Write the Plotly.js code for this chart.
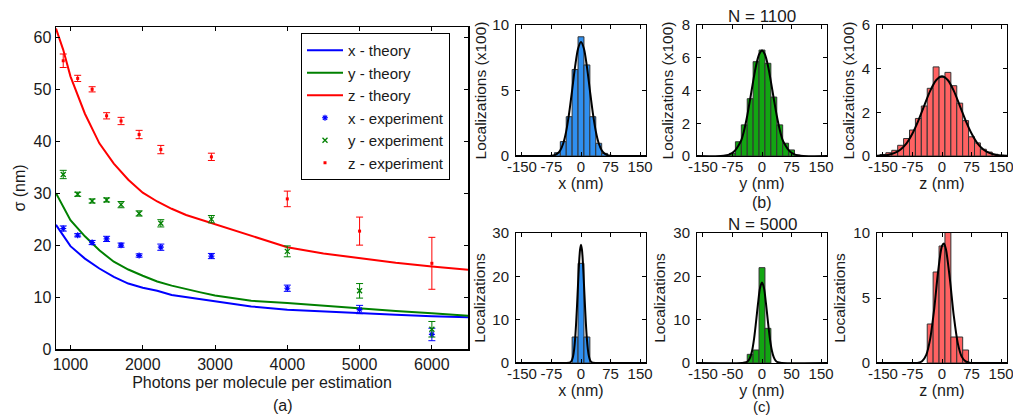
<!DOCTYPE html>
<html>
<head>
<meta charset="utf-8">
<script src="https://cdn.plot.ly/plotly-3.0.1.min.js"></script>
<style>
html,body{margin:0;padding:0;background:#fff;}
#chart{width:1013px;height:416px;}
</style>
</head>
<body>
<div id="chart"></div>
<script>
// ---------- (a) localization precision vs photons ----------
const photonsTheory = [800,900,1000,1200,1400,1600,1800,2000,2200,2400,2600,2800,3000,3500,4000,4500,5000,5500,6000,6500];
const sigmaXTheory = [23.9,21.8,19.8,17.4,15.5,13.9,12.6,11.8,11.2,10.4,10.0,9.5,9.1,8.2,7.55,7.2,6.9,6.6,6.3,6.1];
const sigmaYTheory = [30.0,27.3,24.8,21.7,19.0,16.8,15.3,14.1,13.0,12.2,11.5,10.9,10.3,9.3,8.85,8.3,7.75,7.3,6.9,6.4];
const sigmaZTheory = [61.7,57.6,52.5,45.3,39.6,35.7,32.6,30.1,28.4,27.0,25.8,24.9,24.1,21.9,19.6,18.4,17.5,16.6,15.9,15.25];

const photonsExp = [900,1100,1300,1500,1700,1950,2250,2950,4000,5000,6000];
const sigmaXExp = [23.2,21.9,20.5,21.2,20.0,18.0,19.6,17.9,11.7,7.6,2.8];
const sigmaXErr = [0.5,0.3,0.4,0.5,0.4,0.3,0.6,0.5,0.6,0.8,1.2];
const sigmaYExp = [33.6,29.8,28.5,28.7,27.8,26.1,24.2,25.0,18.8,11.2,3.8];
const sigmaYErr = [0.8,0.4,0.4,0.4,0.6,0.5,0.7,0.7,1.05,1.4,1.5];
const sigmaZExp = [55.5,52.1,50.0,44.9,43.9,41.3,38.4,37.0,28.9,22.7,16.5];
const sigmaZErr = [1.3,0.6,0.5,0.6,0.7,0.8,0.8,0.7,1.5,2.7,5.0];

// ---------- (b) histograms, N = 1100 (x100 localizations) ----------
const binsX1100 = [-75,-60,-45,-30,-15,0,15,30,45,60,75];
const countsX1100 = [0.03,0.25,1.1,3.0,6.6,9.1,6.95,3.0,0.97,0.2,0.03];
const binsY1100 = [-90,-75,-60,-45,-30,-15,0,15,30,45,60,75,90];
const countsY1100 = [0.03,0.16,0.87,1.9,3.5,5.76,6.47,5.66,3.6,1.9,0.78,0.37,0.05];
const binsZ1100 = [-150,-135,-120,-105,-90,-75,-60,-45,-30,-15,0,15,30,45,60,75,90,105,120,135,150];
const countsZ1100 = [0.07,0.15,0.26,0.49,0.8,1.19,1.72,2.29,3.1,4.08,3.6,3.83,3.22,2.42,1.62,0.88,0.6,0.31,0.18,0.08,0.03];

const fitPosX1100 = [-165,-90,-75,-67.5,-60,-52.5,-45,-37.5,-30,-22.5,-15,-7.5,0,7.5,15,22.5,30,37.5,45,52.5,60,67.5,75,90,165];
const fitX1100 = [0,0,0.02,0.06,0.18,0.44,0.97,1.9,3.29,5.03,6.82,8.19,8.7,8.19,6.82,5.03,3.29,1.9,0.97,0.44,0.18,0.06,0.02,0,0];
const fitPosY1100 = [-165,-105,-90,-82.5,-75,-67.5,-60,-52.5,-45,-37.5,-30,-22.5,-15,-7.5,0,7.5,15,22.5,30,37.5,45,52.5,60,67.5,75,82.5,90,105,165];
const fitY1100 = [0,0,0.05,0.1,0.2,0.36,0.62,0.97,1.61,2.46,3.48,4.56,5.53,6.2,6.45,6.2,5.53,4.56,3.48,2.46,1.61,0.97,0.62,0.36,0.2,0.1,0.05,0,0];
const fitPosZ1100 = [-165,-150,-135,-120,-105,-90,-75,-60,-45,-30,-15,0,15,30,45,60,75,90,105,120,135,150,165];
const fitZ1100 = [0.01,0.02,0.06,0.14,0.3,0.58,1.03,1.62,2.31,2.98,3.47,3.65,3.47,2.98,2.31,1.62,1.03,0.58,0.3,0.14,0.06,0.02,0.01];

// ---------- (c) histograms, N = 5000 ----------
const binsX5000 = [-15,0,15];
const countsX5000 = [6,23,6];
const binsY5000 = [-30,-15,0,15];
const countsY5000 = [2,3,22,8];
const binsZ5000 = [-30,-15,0,15,30,45,60];
const countsZ5000 = [3,7,9,12,2,2,1];

const fitPosX5000 = [-165,-40,-30,-25,-22.5,-20,-17.5,-15,-12.5,-10,-7.5,-5,-2.5,0,2.5,5,7.5,10,12.5,15,17.5,20,22.5,25,30,40,165];
const fitX5000 = [0,0,0.05,0.32,0.76,1.6,3.1,5.5,9.0,13.4,18.3,22.9,26.1,27.3,26.1,22.9,18.3,13.4,9.0,5.5,3.1,1.6,0.76,0.32,0.05,0,0];
const fitPosY5000 = [-165,-50,-40,-35,-30,-25,-20,-15,-10,-5,0,5,10,15,20,25,30,35,40,50,165];
const fitY5000 = [0,0.02,0.17,0.5,1.3,2.9,5.7,9.6,13.8,17.3,18.6,17.3,13.8,9.6,5.7,2.9,1.3,0.5,0.17,0.02,0];
const fitPosZ5000 = [-165,-70,-60,-50,-40,-30,-20,-10,0,5,10,20,30,40,50,60,70,80,165];
const fitZ5000 = [0,0,0.02,0.16,0.63,1.86,4.1,7.0,9.0,9.2,8.75,6.45,3.6,1.53,0.49,0.12,0.02,0,0];

// ---------- tick labels ----------
const mainXTicks = [1000,2000,3000,4000,5000,6000];
const histTickVals = [-150,-75,0,75,150];
const histTickText = ['-150','-75','0','75','150'];
const histTickTextY5000 = ['-150','-50','0','50','150'];

// ---------- styling ----------
const W = 1013, H = 416;
const NARROW = "'Liberation Sans Narrow','Arial Narrow','Liberation Sans',Arial,sans-serif";
const REG = "'Liberation Sans',Arial,Helvetica,sans-serif";
const TXT = '#1a1a1a';
const BLUE = '#0000ff', GREEN = '#008000', RED = '#ff0000';
const BAR_BLUE = '#2f8ff0', BAR_GREEN = '#12a612', BAR_RED = '#ff6262';

function px2x(a, b) { return [a / W, b / W]; }
function px2y(top, bottom) { return [1 - bottom / H, 1 - top / H]; }

function axis(o) {
  return Object.assign({
    showline: true, linecolor: '#000', linewidth: 1, mirror: 'ticks',
    ticks: 'inside', ticklen: 4, tickcolor: '#000', tickwidth: 1,
    zeroline: false, showgrid: false, fixedrange: true,
    ticklabeloverflow: 'allow',
    tickfont: {family: NARROW, size: 15, color: TXT}
  }, o);
}

const traces = [];
// theory lines
traces.push({x: photonsTheory, y: sigmaXTheory, type: 'scatter', mode: 'lines', name: 'x - theory',
  line: {color: BLUE, width: 2}, xaxis: 'x', yaxis: 'y'});
traces.push({x: photonsTheory, y: sigmaYTheory, type: 'scatter', mode: 'lines', name: 'y - theory',
  line: {color: GREEN, width: 2}, xaxis: 'x', yaxis: 'y'});
traces.push({x: photonsTheory, y: sigmaZTheory, type: 'scatter', mode: 'lines', name: 'z - theory',
  line: {color: RED, width: 2}, xaxis: 'x', yaxis: 'y'});
// experiments
traces.push({x: photonsExp, y: sigmaXExp, type: 'scatter', mode: 'markers', name: 'x - experiment',
  marker: {symbol: 'asterisk-open', size: 5, color: BLUE, line: {color: BLUE, width: 1.2}},
  error_y: {type: 'data', array: sigmaXErr, visible: true, color: BLUE, thickness: 1, width: 3.5},
  xaxis: 'x', yaxis: 'y'});
traces.push({x: photonsExp, y: sigmaYExp, type: 'scatter', mode: 'markers', name: 'y - experiment',
  marker: {symbol: 'x-thin-open', size: 5, color: GREEN, line: {color: GREEN, width: 1.3}},
  error_y: {type: 'data', array: sigmaYErr, visible: true, color: GREEN, thickness: 1, width: 3.5},
  xaxis: 'x', yaxis: 'y'});
traces.push({x: photonsExp, y: sigmaZExp, type: 'scatter', mode: 'markers', name: 'z - experiment',
  marker: {symbol: 'square', size: 3, color: RED},
  error_y: {type: 'data', array: sigmaZErr, visible: true, color: RED, thickness: 1, width: 3.5},
  xaxis: 'x', yaxis: 'y'});

function hist(bins, counts, color, n) {
  traces.push({x: bins, y: counts, type: 'bar', width: 15, showlegend: false,
    marker: {color: color, line: {color: '#333', width: 1}},
    xaxis: 'x' + n, yaxis: 'y' + n, hoverinfo: 'skip'});
}
function fit(xs, ys, n) {
  traces.push({x: xs, y: ys, type: 'scatter', mode: 'lines', showlegend: false,
    line: {color: '#000', width: 2, shape: 'spline', smoothing: 0.8},
    xaxis: 'x' + n, yaxis: 'y' + n, hoverinfo: 'skip'});
}
hist(binsX1100, countsX1100, BAR_BLUE, 2);  fit(fitPosX1100, fitX1100, 2);
hist(binsY1100, countsY1100, BAR_GREEN, 3); fit(fitPosY1100, fitY1100, 3);
hist(binsZ1100, countsZ1100, BAR_RED, 4);   fit(fitPosZ1100, fitZ1100, 4);
hist(binsX5000, countsX5000, BAR_BLUE, 5);  fit(fitPosX5000, fitX5000, 5);
hist(binsY5000, countsY5000, BAR_GREEN, 6); fit(fitPosY5000, fitY5000, 6);
hist(binsZ5000, countsZ5000, BAR_RED, 7);   fit(fitPosZ5000, fitZ5000, 7);

const cols = [[516, 646], [697, 827], [877, 1007]];
const topRow = [25, 156], botRow = [233, 363];
const HR = [-165, 165];
const titleFont = {family: REG, size: 16, color: TXT};
const yTitleFont = {family: REG, size: 15.5, color: TXT};

function histX(col, row, n, label, ttext) {
  return axis({domain: px2x(cols[col][0], cols[col][1]), range: HR, anchor: 'y' + n,
    tickvals: histTickVals, ticktext: ttext || histTickText, ticklabelstandoff: -3,
    title: {text: label, font: titleFont, standoff: 3}});
}
function histY(row, n, range, dtick, label, standoff) {
  return axis({domain: px2y(row[0], row[1]), range: range, dtick: dtick, anchor: 'x' + n,
    ticklabelstandoff: 3,
    title: {text: label, font: yTitleFont, standoff: standoff}});
}

function ann(text, xpx, ypx, size) {
  return {text: text, x: xpx / W, y: 1 - ypx / H, xref: 'paper', yref: 'paper',
    xanchor: 'center', yanchor: 'middle', showarrow: false,
    font: {family: REG, size: size, color: TXT}};
}

const layout = {
  width: W, height: H,
  margin: {l: 0, r: 0, t: 0, b: 0},
  paper_bgcolor: '#fff', plot_bgcolor: '#fff',
  bargap: 0,
  font: {family: REG, color: TXT},
  showlegend: true,
  legend: {x: 301 / W, y: 1 - 33 / H, xanchor: 'left', yanchor: 'top',
    bgcolor: '#fff', bordercolor: '#000', borderwidth: 1,
    itemwidth: 36,
    font: {family: REG, size: 15, color: TXT}, tracegroupgap: 0},
  xaxis: axis({domain: px2x(56, 468), range: [800, 6500], tickvals: mainXTicks, anchor: 'y',
    linewidth: 1.5, tickfont: {family: NARROW, size: 16, color: TXT},
    title: {text: 'Photons per molecule per estimation', font: titleFont, standoff: 5}}),
  yaxis: axis({domain: px2y(27, 349), range: [0, 62], dtick: 10, anchor: 'x',
    linewidth: 1.5, tickfont: {family: NARROW, size: 16, color: TXT},
    title: {text: 'σ (nm)', font: titleFont, standoff: 4}}),
  xaxis2: histX(0, topRow, 2, 'x (nm)'),
  yaxis2: histY(topRow, 2, [0, 10], 5, 'Localizations (x100)', 1),
  xaxis3: histX(1, topRow, 3, 'y (nm)'),
  yaxis3: histY(topRow, 3, [0, 8], 2, 'Localizations (x100)', 4),
  xaxis4: histX(2, topRow, 4, 'z (nm)'),
  yaxis4: histY(topRow, 4, [0, 6], 2, 'Localizations (x100)', 3),
  xaxis5: histX(0, botRow, 5, 'x (nm)'),
  yaxis5: histY(botRow, 5, [0, 30], 10, 'Localizations', 2),
  xaxis6: histX(1, botRow, 6, 'y (nm)', histTickTextY5000),
  yaxis6: histY(botRow, 6, [0, 30], 10, 'Localizations', 3),
  xaxis7: histX(2, botRow, 7, 'z (nm)'),
  yaxis7: histY(botRow, 7, [0, 10], 5, 'Localizations', 3),
  annotations: [
    ann('(a)', 283, 405, 16),
    ann('N = 1100', 762, 17, 17),
    ann('(b)', 762, 203, 16),
    ann('N = 5000', 762, 224, 17),
    ann('(c)', 762, 406, 15)
  ]
};

Plotly.newPlot('chart', traces, layout, {staticPlot: true, displayModeBar: false});
</script>
</body>
</html>
